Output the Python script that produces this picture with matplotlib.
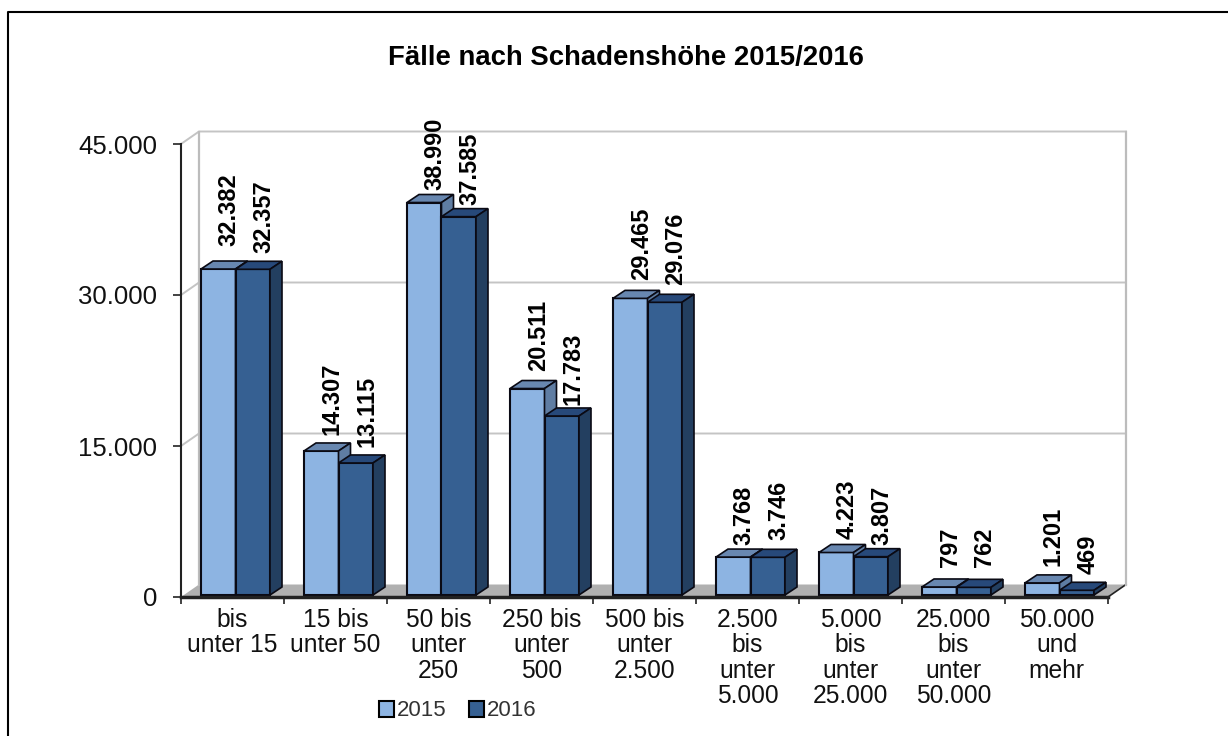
import numpy as np
from matplotlib import pyplot as plt
from matplotlib.lines import Line2D
from matplotlib.patches import Patch, Polygon

categories = ["bis\nunter 15", "15 bis\nunter 50", "50 bis\nunter\n250", "250 bis\nunter\n500",
              "500 bis\nunter\n2.500", "2.500\nbis\nunter\n5.000", "5.000\nbis\nunter\n25.000",
              "25.000\nbis\nunter\n50.000", "50.000\nund\nmehr"]
faelle_2015 = [32382, 14307, 38990, 20511, 29465, 3768, 4223, 797, 1201]
faelle_2016 = [32357, 13115, 37585, 17783, 29076, 3746, 3807, 762, 469]
labels_2015 = ["32.382", "14.307", "38.990", "20.511", "29.465", "3.768", "4.223", "797", "1.201"]
labels_2016 = ["32.357", "13.115", "37.585", "17.783", "29.076", "3.746", "3.807", "762", "469"]
y_ticks = [0, 15000, 30000, 45000]
y_labels = ["0", "15.000", "30.000", "45.000"]

# gap between bar top and its label, in pixels
gap_2015 = [23, 16, 13, 18, 18, 12, 13, 20, 17]
gap_2016 = [16, 16, 12, 11, 17, 17, 12, 20, 16]

plt.rcParams['font.family'] = ['Liberation Sans', 'DejaVu Sans']

W, H = 1228, 736
fig = plt.figure(figsize=(W / 100, H / 100), dpi=100, facecolor='white')
# the axes is the front plane of the fake 3d box
ax = fig.add_axes([181 / W, 1 - 597 / H, (1108 - 181) / W, (597 - 144) / H])
ax.patch.set_alpha(0)
ax.set_xlim(-0.5, 8.5)
ax.set_ylim(0, 45000)

px_x = 9 / (1108 - 181)
px_y = 45000 / (597 - 144)


def side_quads(x0, x1, y0, y1, dx, dy):
    top = [(x0, y1), (x1, y1), (x1 + dx, y1 + dy), (x0 + dx, y1 + dy)]
    side = [(x1, y0), (x1 + dx, y0 + dy), (x1 + dx, y1 + dy), (x1, y1)]
    return top, side


# walls and floor
wall_dx, wall_dy = 18 * px_x, 12.5 * px_y
floor = Polygon([(-0.5, 0), (8.5, 0), (8.5 + wall_dx, wall_dy), (-0.5 + wall_dx, wall_dy)],
                closed=True, fc='#b0b0b0', ec='none', clip_on=False, zorder=1)
ax.add_patch(floor)
ax.plot([8.5, 8.5 + wall_dx], [0, wall_dy], color='#222222', lw=1.2, clip_on=False, zorder=1.2)
for t in y_ticks:
    if t > 0:
        ax.plot([-0.5, -0.5 + wall_dx, 8.5 + wall_dx], [t, t + wall_dy, t + wall_dy],
                color='#c4c4c4', lw=1.4, clip_on=False, zorder=1.5)
for xw in (-0.5 + wall_dx, 8.5 + wall_dx):
    ax.plot([xw, xw], [wall_dy, 45000 + wall_dy], color='#bcbcbc', lw=1.6, clip_on=False, zorder=1.5)

# bars
bar_w = 34.5 * px_x
bar_shift = 3 * px_x
base = 2 * px_y
depth_x, depth_y = 12 * px_x, 8 * px_y
styles = [('#8db4e2', '#6887b0', '#5f7da3'), ('#366092', '#27497a', '#233f60')]

z = 2
for i in range(len(categories)):
    for k, (vals, labs, gaps) in enumerate([(faelle_2015, labels_2015, gap_2015),
                                            (faelle_2016, labels_2016, gap_2016)]):
        front, top_c, side_c = styles[k]
        xc = i + bar_shift + (k - 0.5) * bar_w
        x0, x1 = xc - bar_w / 2, xc + bar_w / 2
        y1 = base + vals[i]
        ax.bar(xc, vals[i], bar_w, bottom=base, color=front, edgecolor='#0a0a14', linewidth=1.5,
               clip_on=False, zorder=z)
        top, side = side_quads(x0, x1, base, y1, depth_x, depth_y)
        ax.add_patch(Polygon(top, closed=True, fc=top_c, ec='#0a0a14', lw=1.2, clip_on=False, zorder=z))
        ax.add_patch(Polygon(side, closed=True, fc=side_c, ec='#0a0a14', lw=1.2, clip_on=False, zorder=z))
        ax.annotate(labs[i], (xc, y1), xytext=(11 * 0.72, gaps[i] * 0.72), textcoords='offset points',
                    rotation=90, ha='center', va='bottom', fontsize=17, fontweight='bold',
                    color='black', zorder=50)
        z += 1

# axes, ticks
for s in ('top', 'right'):
    ax.spines[s].set_visible(False)
ax.spines['left'].set_color('#222222')
ax.spines['left'].set_linewidth(1.5)
ax.spines['bottom'].set_color('#222222')
ax.spines['bottom'].set_linewidth(2.5)
ax.spines['bottom'].set_zorder(40)
ax.set_yticks(y_ticks, y_labels, fontsize=18.5, color='#111111')
ax.tick_params(axis='y', length=6, width=1.2, pad=11, color='#222222')
ax.set_xticks(np.arange(-0.5, 9, 1), [""] * 10)
ax.tick_params(axis='x', which='major', length=5, width=1.2, color='#222222')
ax.set_xticks(np.arange(9), categories, minor=True, fontsize=17.7, color='#111111',
              linespacing=1.07, va='top')
ax.tick_params(axis='x', which='minor', length=0, pad=8)

fig.text(626 / W, 1 - 58 / H, "Fälle nach Schadenshöhe 2015/2016", ha='center', va='center',
         fontsize=19.8, fontweight='bold', color='black')

handles = [Patch(fc=styles[0][0], ec='black', lw=1.5, label='2015'),
           Patch(fc=styles[1][0], ec='black', lw=1.5, label='2016')]
fig.legend(handles=handles, loc='center', bbox_to_anchor=(458 / W, 1 - 711 / H), ncol=2,
           frameon=False, fontsize=16, handlelength=0.65, handleheight=0.7, handletextpad=0.15,
           columnspacing=1.0, labelcolor='#333333')

# outer chart frame, only left and top are in the crop
fig.add_artist(Line2D([8 / W, 8 / W, 1], [0, 1 - 12 / H, 1 - 12 / H], color='black', lw=1.5))

fig.savefig("out.png", dpi=100)
